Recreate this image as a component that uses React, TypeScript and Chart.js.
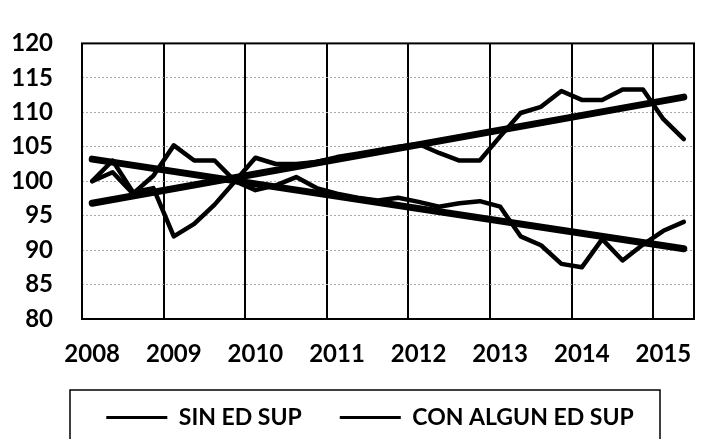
import React, { useEffect, useRef } from "react";
import { Chart, registerables } from "chart.js";

Chart.register(...registerables);

const QUARTERS = [
  "2008 T1", "2008 T2", "2008 T3", "2008 T4",
  "2009 T1", "2009 T2", "2009 T3", "2009 T4",
  "2010 T1", "2010 T2", "2010 T3", "2010 T4",
  "2011 T1", "2011 T2", "2011 T3", "2011 T4",
  "2012 T1", "2012 T2", "2012 T3", "2012 T4",
  "2013 T1", "2013 T2", "2013 T3", "2013 T4",
  "2014 T1", "2014 T2", "2014 T3", "2014 T4",
  "2015 T1", "2015 T2",
];

const YEAR_LABELS = ["2008", "2009", "2010", "2011", "2012", "2013", "2014", "2015"];

const SIN_ED_SUP = [
  100.0, 103.0, 98.4, 99.0, 92.0, 93.8, 96.6, 100.0,
  98.7, 99.4, 100.6, 99.0, 98.2, 97.6, 97.2, 97.6,
  97.0, 96.3, 96.8, 97.1, 96.3, 92.0, 90.7, 88.0,
  87.5, 91.6, 88.5, 90.8, 92.8, 94.1,
];

const CON_ALGUN_ED_SUP = [
  100.0, 101.3, 98.2, 100.8, 105.2, 103.0, 103.0, 100.0,
  103.4, 102.5, 102.5, 102.8, 103.5, 104.0, 104.5, 105.0,
  105.4, 104.1, 103.0, 103.0, 106.5, 109.9, 110.8, 113.1,
  111.8, 111.8, 113.3, 113.3, 109.0, 106.1,
];

// trend line end values (first and last quarter)
const TREND_SIN_ENDS = [103.2, 90.2];
const TREND_CON_ENDS = [96.8, 112.2];

const Y_MIN = 80;
const Y_MAX = 120;
const Y_STEP = 5;

const FONT = "Lato, 'Open Sans', 'DejaVu Sans', sans-serif";

function trendSeries(ends: number[]) {
  const arr: (number | null)[] = QUARTERS.map(() => null);
  arr[0] = ends[0];
  arr[arr.length - 1] = ends[1];
  return arr;
}

const framePlugin = {
  id: "frameAndLegendBox",
  afterLayout(chart: any) {
    const lg = chart.legend;
    if (lg) {
      lg.left += 46;
      if (typeof lg.adjustHitBoxes === "function") lg.adjustHitBoxes();
    }
  },
  beforeDatasetsDraw(chart: any) {
    const { ctx, chartArea: a } = chart;
    ctx.save();
    ctx.strokeStyle = "#000";
    ctx.lineWidth = 2;
    ctx.strokeRect(a.left, a.top, a.right - a.left, a.bottom - a.top);
    ctx.restore();
  },
  afterDraw(chart: any) {
    const lg = chart.legend;
    if (!lg) return;
    const { ctx } = chart;
    const boxLeft = 70;
    const boxWidth = 590;
    const top = lg.top + 22;
    ctx.save();
    ctx.strokeStyle = "#000";
    ctx.lineWidth = 1.5;
    ctx.strokeRect(boxLeft, top, boxWidth, chart.height + 10 - top);
    ctx.restore();
  },
};

export default function App() {
  const ref = useRef<HTMLCanvasElement | null>(null);

  useEffect(() => {
    if (!ref.current) return;
    const lineCommon = {
      borderColor: "#000",
      backgroundColor: "#000",
      pointRadius: 0,
      tension: 0,
      borderJoinStyle: "round" as const,
      borderCapStyle: "round" as const,
      fill: false,
    };
    const chart = new Chart(ref.current, {
      type: "line",
      data: {
        labels: QUARTERS,
        datasets: [
          { ...lineCommon, label: "SIN ED SUP", data: SIN_ED_SUP, borderWidth: 4.5 },
          { ...lineCommon, label: "CON ALGUN ED SUP", data: CON_ALGUN_ED_SUP, borderWidth: 4.5 },
          { ...lineCommon, label: "trend sin", data: trendSeries(TREND_SIN_ENDS), borderWidth: 7, spanGaps: true },
          { ...lineCommon, label: "trend con", data: trendSeries(TREND_CON_ENDS), borderWidth: 7, spanGaps: true },
        ],
      },
      options: {
        responsive: false,
        animation: false,
        layout: { padding: { top: 22, right: 14, bottom: 0, left: 0 } },
        plugins: {
          tooltip: { enabled: false },
          legend: {
            position: "bottom",
            labels: {
              color: "#000",
              font: { family: FONT, size: 23, weight: "bold" },
              boxWidth: 61,
              boxHeight: 3,
              padding: 38,
              filter: (item: any) => item.datasetIndex < 2,
              generateLabels: (chart: any) =>
                Chart.defaults.plugins.legend.labels
                  .generateLabels(chart)
                  .map((l: any) => ({ ...l, lineWidth: 0, fillStyle: "#000" })),
            },
          },
        },
        scales: {
          x: {
            type: "category",
            offset: true,
            grid: {
              offset: true,
              drawTicks: false,
              lineWidth: 2,
              color: (c: any) =>
                typeof c.index === "number" && c.index > 0 && c.index < QUARTERS.length && c.index % 4 === 0
                  ? "#000"
                  : "rgba(0,0,0,0)",
            },
            border: { display: false },
            ticks: {
              autoSkip: false,
              maxRotation: 0,
              padding: 21,
              color: "#000",
              font: { family: FONT, size: 24, weight: "bold" },
              callback: (_v: any, i: number) => (i % 4 === 0 ? YEAR_LABELS[i / 4] : ""),
            },
            afterFit: (s: any) => {
              s.height = 49;
            },
          },
          y: {
            min: Y_MIN,
            max: Y_MAX,
            grid: {
              drawTicks: false,
              lineWidth: 1,
              color: (c: any) =>
                c.tick && (c.tick.value === Y_MIN || c.tick.value === Y_MAX) ? "rgba(0,0,0,0)" : "#a8a8a8",
            },
            border: { display: false, dash: [2, 2] },
            ticks: {
              stepSize: Y_STEP,
              padding: 29,
              color: "#000",
              font: { family: FONT, size: 24, weight: "bold" },
            },
            afterFit: (s: any) => {
              s.width = 82;
            },
          },
        },
      },
      plugins: [framePlugin],
    });
    return () => chart.destroy();
  }, []);

  return (
    <div style={{ position: "absolute", left: 0, top: 0, width: 708, height: 439, background: "#fff" }}>
      <canvas ref={ref} width={708} height={439} style={{ display: "block" }} />
    </div>
  );
}
